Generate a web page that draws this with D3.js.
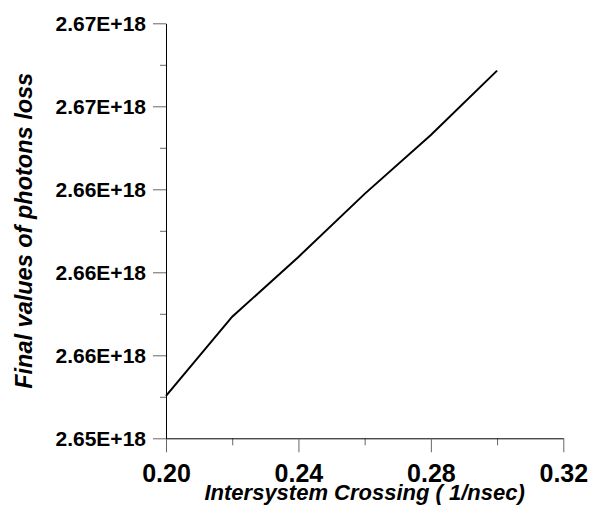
<!DOCTYPE html>
<html lang="en">
  <head>
    <meta charset="UTF-8" />
    <title>Final values of photons loss</title>
    <style>
      body {
        margin: 0;
        background: #fff;
        font-family: "Liberation Sans", Arial, sans-serif;
      }
      .axis text {
        font-weight: bold;
        fill: #000;
      }
      .axis .domain {
        stroke: #000;
      }
      .axis .tick line {
        stroke: #666;
      }
      .title {
        font-weight: bold;
        font-style: italic;
      }
    </style>
  </head>
  <body>
    <svg width="598" height="516"></svg>
  </body>
  <script src="https://cdn.jsdelivr.net/npm/d3@7"></script>
  <script>
    // crossing rate (1/nsec) and final photon loss
    let rates = [0.2, 0.22, 0.24, 0.26, 0.28, 0.3];
    let losses = [2.65404e18, 2.65786e18, 2.66074e18, 2.66378e18, 2.66662e18, 2.66972e18];

    let xTicks = [0.2, 0.24, 0.28, 0.32];
    let xMinor = [0.22, 0.26, 0.3];
    let yTicks = [2.652e18, 2.656e18, 2.66e18, 2.664e18, 2.668e18, 2.672e18];
    let yMinor = [2.654e18, 2.658e18, 2.662e18, 2.666e18, 2.67e18];

    let svg = d3.select("svg");
    let plotLeft = 166, plotRight = 563.3, plotTop = 23.3, plotBottom = 438.3;

    let x = d3.scaleLinear().domain([0.2, 0.32]).range([plotLeft, plotRight]);
    let y = d3.scaleLinear().domain([2.652e18, 2.672e18]).range([plotBottom, plotTop]);

    // minor ticks first so the major axis draws over them
    svg.append("g")
      .attr("class", "axis")
      .attr("transform", `translate(0,${plotBottom})`)
      .call(d3.axisBottom(x).tickValues(xMinor).tickSize(7).tickFormat(""))
      .call((g) => g.select(".domain").remove());

    svg.append("g")
      .attr("class", "axis")
      .attr("transform", `translate(${plotLeft},0)`)
      .call(d3.axisLeft(y).tickValues(yMinor).tickSize(6).tickFormat(""))
      .call((g) => g.select(".domain").remove());

    svg.append("g")
      .attr("class", "axis")
      .attr("transform", `translate(0,${plotBottom})`)
      .call(
        d3.axisBottom(x)
          .tickValues(xTicks)
          .tickSize(14)
          .tickSizeOuter(0)
          .tickPadding(11.6)
          .tickFormat(d3.format(".2f"))
      )
      .call((g) => g.selectAll("text").style("font-size", "25px"));

    svg.append("g")
      .attr("class", "axis")
      .attr("transform", `translate(${plotLeft},0)`)
      .call(
        d3.axisLeft(y)
          .tickValues(yTicks)
          .tickSize(13)
          .tickSizeOuter(0)
          .tickPadding(7)
          .tickFormat((d) => (d / 1e18).toFixed(2) + "E+18")
      )
      .call((g) => g.selectAll("text").style("font-size", "21px"));

    let line = d3.line()
      .x((d) => x(d[0]))
      .y((d) => y(d[1]));

    svg.append("path")
      .datum(d3.zip(rates, losses))
      .attr("fill", "none")
      .attr("stroke", "#000")
      .attr("stroke-width", 2)
      .attr("d", line);

    svg.append("text")
      .attr("class", "title")
      .attr("x", (plotLeft + plotRight) / 2)
      .attr("y", 500)
      .attr("text-anchor", "middle")
      .style("font-size", "22px")
      .text("Intersystem Crossing ( 1/nsec)");

    svg.append("text")
      .attr("class", "title")
      .attr("transform", `translate(32,${(plotTop + plotBottom) / 2}) rotate(-90)`)
      .attr("text-anchor", "middle")
      .style("font-size", "23.5px")
      .text("Final values of photons loss");
  </script>
</html>
